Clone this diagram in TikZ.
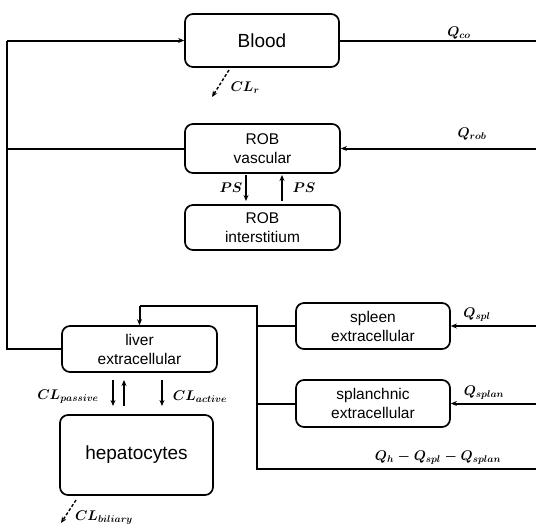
\RequirePackage{fix-cm}
\documentclass[tikz,border=0pt]{standalone}
\usepackage{fontspec}
\setmainfont{Liberation Sans}
\usetikzlibrary{arrows.meta}
\begin{document}
\begin{tikzpicture}[x=1pt,y=-1pt,
  cbox/.style={draw, line width=1.7pt, rounded corners=8pt, align=center, inner sep=0pt,
    font=\fontsize{15.5}{19}\selectfont},
  big/.style={font=\fontsize{19}{22}\selectfont},
  conn/.style={line width=2pt},
  arr/.style={line width=1.7pt, -{Stealth[length=6pt,width=5pt]}},
  harr/.style={line width=2pt, -{Stealth[length=6pt,width=5pt]}},
  darr/.style={line width=1.4pt, dash pattern=on 3pt off 2pt, -{Stealth[length=6pt,width=5pt]}},
  lab/.style={font=\fontsize{14}{16}\selectfont\boldmath, inner sep=0pt}]
\useasboundingbox (0,0) rectangle (536,525);
% boxes
\node[cbox, big, minimum width=154pt, minimum height=53pt] (blood) at (262,40.5) {Blood};
\node[cbox, minimum width=155pt, minimum height=49pt] (robv) at (262.5,148.5) {ROB\\vascular};
\node[cbox, minimum width=155pt, minimum height=45pt] (robi) at (262.5,227.5) {ROB\\interstitium};
\node[cbox, minimum width=155pt, minimum height=46pt] (liver) at (139.5,349) {liver\\extracellular};
\node[cbox, big, minimum width=153pt, minimum height=80pt] (hep) at (136.5,455) {hepatocytes};
\node[cbox, minimum width=154pt, minimum height=46pt] (spleen) at (373,326) {spleen\\extracellular};
\node[cbox, minimum width=154pt, minimum height=47pt] (splan) at (373,403.5) {splanchnic\\extracellular};
% coordinates
\coordinate (tl) at (7,40.5);
\coordinate (bl) at (7,349);
\coordinate (rl) at (7,148.5);
\coordinate (qco) at (536,40.5);
\coordinate (qrob) at (536,148.5);
\coordinate (qspl) at (536,326);
\coordinate (qsplan) at (536,403.5);
\coordinate (qh) at (536,469);
\coordinate (busb) at (257,469);
\coordinate (bust) at (257,306);
\coordinate (livt) at (139.5,306);
\coordinate (busspl) at (257,326);
\coordinate (bussplan) at (257,403.5);
\coordinate (clr0) at (229,70);
\coordinate (clr1) at (212,97);
\coordinate (clb0) at (76,500);
\coordinate (clb1) at (61,523);
\coordinate (ps1a) at (246,175);
\coordinate (ps1b) at (246,201);
\coordinate (ps2a) at (282,201);
\coordinate (ps2b) at (282,175);
\coordinate (cp1a) at (113,380);
\coordinate (cp1b) at (113,406);
\coordinate (cp2a) at (124,406);
\coordinate (cp2b) at (124,380);
\coordinate (ca1a) at (162,380);
\coordinate (ca1b) at (162,406);
% connectors
\draw[conn] (liver.west) -- (bl) -- (tl);
\draw[harr] (tl) -- (blood.west);
\draw[conn] (robv.west) -- (rl);
\draw[conn] (blood.east) -- (qco);
\draw[harr] (qrob) -- (robv.east);
\draw[harr] (qspl) -- (spleen.east);
\draw[harr] (qsplan) -- (splan.east);
\draw[conn] (spleen.west) -- (busspl);
\draw[conn] (splan.west) -- (bussplan);
\draw[conn] (qh) -- (busb) -- (bust) -- (livt);
\draw[harr] (livt) -- (liver.north);
% PS arrows
\draw[arr] (ps1a) -- (ps1b);
\draw[arr] (ps2a) -- (ps2b);
% CL arrows
\draw[arr] (cp1a) -- (cp1b);
\draw[arr] (cp2a) -- (cp2b);
\draw[arr] (ca1a) -- (ca1b);
% dashed
\draw[darr] (clr0) -- (clr1);
\draw[darr] (clb0) -- (clb1);
% labels
\node[lab] (lco) at (459,33) {$Q_{co}$};
\node[lab] (lrob) at (472,134) {$Q_{rob}$};
\node[lab] (lclr) at (245,88) {$CL_r$};
\node[lab] (lps1) at (231,188) {$PS$};
\node[lab] (lps2) at (304,188) {$PS$};
\node[lab] (lpas) at (68,397) {$CL_{passive}$};
\node[lab] (lact) at (200,397) {$CL_{active}$};
\node[lab] (lbil) at (104,518) {$CL_{biliary}$};
\node[lab] (lspl) at (477,315) {$Q_{spl}$};
\node[lab] (lsplan) at (484,393) {$Q_{splan}$};
\node[lab] (lqh) at (438,458) {$Q_h - Q_{spl} - Q_{splan}$};
\end{tikzpicture}
\end{document}
